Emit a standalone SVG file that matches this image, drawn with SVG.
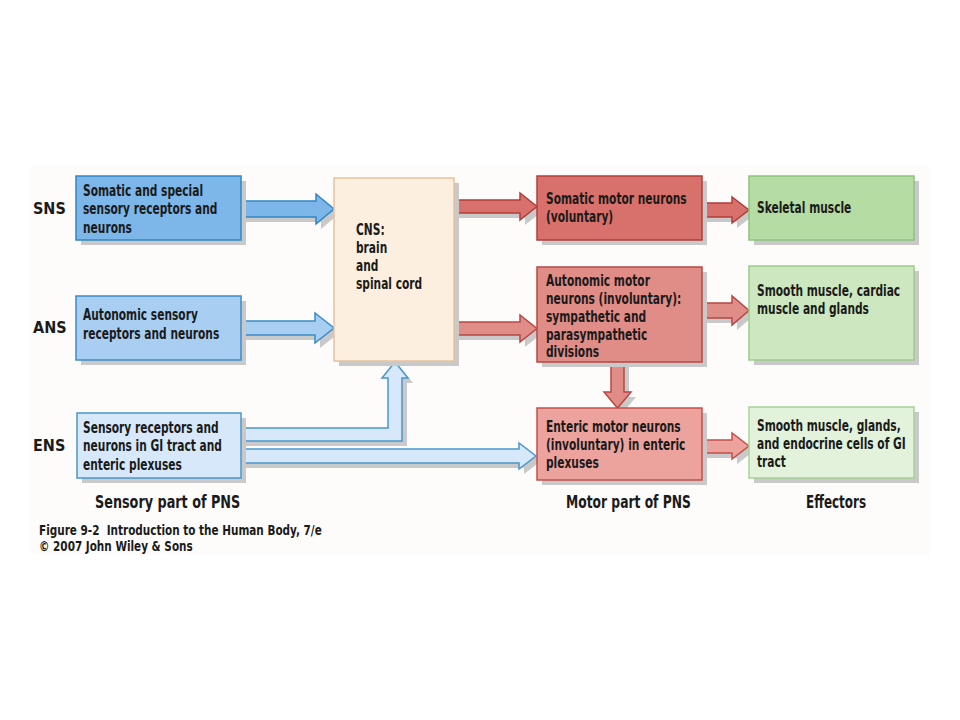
<svg xmlns="http://www.w3.org/2000/svg" width="960" height="720" viewBox="0 0 960 720">
<style>
text{font-family:"Liberation Sans Narrow","DejaVu Sans Condensed","Liberation Sans",sans-serif;font-weight:bold;fill:#1a1a1a}
.t{font-size:16px}
.lab{font-size:16px}
.big{font-size:18px}
.cap{font-size:14px}
.sh{fill:#c9c9c9}
.b1{fill:#7db6e8;stroke:#2f86c4;stroke-width:1.5}
.b2{fill:#a8cef2;stroke:#3a8cc8;stroke-width:1.5}
.b3{fill:#d6e8f9;stroke:#4a97cc;stroke-width:1.5}
.cns{fill:#fdefdf;stroke:#e6c29e;stroke-width:1.5}
.r1{fill:#d8716b;stroke:#b13c3a;stroke-width:1.5}
.r2{fill:#e08d88;stroke:#b84744;stroke-width:1.5}
.r3{fill:#eca39e;stroke:#c24f4b;stroke-width:1.5}
.g1{fill:#b5dca2;stroke:#8cc47b;stroke-width:1.5}
.g2{fill:#cde8c0;stroke:#9ccd8b;stroke-width:1.5}
.g3{fill:#e3f2db;stroke:#a6d296;stroke-width:1.5}
</style>
<rect x="0" y="0" width="960" height="720" fill="#ffffff"/>
<rect x="30" y="165" width="900" height="390" fill="#fefcfa"/>

<g id="connectors">
  <g transform="translate(5,5)" class="sh">
    <polygon points="241,201 316,201 316,194 334,209 316,224 316,217 241,217"/>
    <polygon points="241,321 315,321 315,313 334,328 315,343 315,335 241,335"/>
    <polygon points="241,428 388,428 388,378 382,378 395,362 408,378 402,378 402,441 241,441"/>
    <polygon points="241,449 519,449 519,443 536,456 519,469 519,463 241,463"/>
    <polygon points="454,200 520,200 520,193 537,206.5 520,220 520,213 454,213"/>
    <polygon points="454,322 520,322 520,315 537,328.5 520,342 520,335 454,335"/>
    <polygon points="702,203 732,203 732,197 749,210 732,223 732,217 702,217"/>
    <polygon points="702,303 732,303 732,296 749,310.5 732,325 732,318 702,318"/>
    <polygon points="702,440 732,440 732,433 749,446 732,459 732,453 702,453"/>
    <polygon points="611,362 611,392 604,392 617.5,408 631,392 624,392 624,362"/>
  </g>
  <polygon class="b1" points="241,201 316,201 316,194 334,209 316,224 316,217 241,217"/>
  <polygon class="b2" points="241,321 315,321 315,313 334,328 315,343 315,335 241,335"/>
  <polygon class="b3" points="241,428 388,428 388,378 382,378 395,362 408,378 402,378 402,441 241,441"/>
  <polygon class="b3" points="241,449 519,449 519,443 536,456 519,469 519,463 241,463"/>
  <polygon class="r1" points="454,200 520,200 520,193 537,206.5 520,220 520,213 454,213"/>
  <polygon class="r2" points="454,322 520,322 520,315 537,328.5 520,342 520,335 454,335"/>
  <polygon class="r1" points="702,203 732,203 732,197 749,210 732,223 732,217 702,217"/>
  <polygon class="r2" points="702,303 732,303 732,296 749,310.5 732,325 732,318 702,318"/>
  <polygon class="r3" points="702,440 732,440 732,433 749,446 732,459 732,453 702,453"/>
  <polygon class="r2" points="611,362 611,392 604,392 617.5,408 631,392 624,392 624,362"/>
</g>

<g id="sns-label"><text class="lab" x="33" y="214">SNS</text></g>
<g id="ans-label"><text class="lab" x="33" y="333">ANS</text></g>
<g id="ens-label"><text class="lab" x="33" y="451">ENS</text></g>

<g id="somatic-sensory">
  <rect class="sh" x="81" y="181" width="165" height="64"/>
  <rect class="b1" x="76" y="176" width="165" height="64"/>
  <g transform="translate(83,0) scale(0.74,1)">
    <text class="t" x="0" y="196">Somatic and special</text>
    <text class="t" x="0" y="214">sensory receptors and</text>
    <text class="t" x="0" y="233">neurons</text>
  </g>
</g>
<g id="autonomic-sensory">
  <rect class="sh" x="81" y="301" width="165" height="64"/>
  <rect class="b2" x="76" y="296" width="165" height="64"/>
  <g transform="translate(83,0) scale(0.74,1)">
    <text class="t" x="0" y="320">Autonomic sensory</text>
    <text class="t" x="0" y="339">receptors and neurons</text>
  </g>
</g>
<g id="enteric-sensory">
  <rect class="sh" x="82" y="418" width="164" height="65"/>
  <rect class="b3" x="77" y="413" width="164" height="65"/>
  <g transform="translate(83,0) scale(0.74,1)">
    <text class="t" x="0" y="433">Sensory receptors and</text>
    <text class="t" x="0" y="451">neurons in GI tract and</text>
    <text class="t" x="0" y="470">enteric plexuses</text>
  </g>
</g>
<g id="cns">
  <rect class="sh" x="339" y="183" width="120" height="183"/>
  <rect class="cns" x="334" y="178" width="120" height="183"/>
  <g transform="translate(356,0) scale(0.74,1)">
    <text class="t" x="0" y="235">CNS:</text>
    <text class="t" x="0" y="253">brain</text>
    <text class="t" x="0" y="271">and</text>
    <text class="t" x="0" y="289">spinal cord</text>
  </g>
</g>
<g id="somatic-motor">
  <rect class="sh" x="542" y="181" width="165" height="64"/>
  <rect class="r1" x="537" y="176" width="165" height="64"/>
  <g transform="translate(546,0) scale(0.74,1)">
    <text class="t" x="0" y="204">Somatic motor neurons</text>
    <text class="t" x="0" y="222">(voluntary)</text>
  </g>
</g>
<g id="autonomic-motor">
  <rect class="sh" x="542" y="272" width="165" height="95"/>
  <rect class="r2" x="537" y="267" width="165" height="95"/>
  <g transform="translate(546,0) scale(0.74,1)">
    <text class="t" x="0" y="286">Autonomic motor</text>
    <text class="t" x="0" y="304">neurons (involuntary):</text>
    <text class="t" x="0" y="322">sympathetic and</text>
    <text class="t" x="0" y="340">parasympathetic</text>
    <text class="t" x="0" y="357">divisions</text>
  </g>
</g>
<g id="enteric-motor">
  <rect class="sh" x="542" y="413" width="165" height="72"/>
  <rect class="r3" x="537" y="408" width="165" height="72"/>
  <g transform="translate(546,0) scale(0.74,1)">
    <text class="t" x="0" y="432">Enteric motor neurons</text>
    <text class="t" x="0" y="450">(involuntary) in enteric</text>
    <text class="t" x="0" y="468">plexuses</text>
  </g>
</g>
<g id="skeletal-muscle">
  <rect class="sh" x="754" y="181" width="165" height="64"/>
  <rect class="g1" x="749" y="176" width="165" height="64"/>
  <g transform="translate(757,0) scale(0.74,1)">
    <text class="t" x="0" y="213">Skeletal muscle</text>
  </g>
</g>
<g id="smooth-cardiac">
  <rect class="sh" x="754" y="271" width="165" height="94"/>
  <rect class="g2" x="749" y="266" width="165" height="94"/>
  <g transform="translate(757,0) scale(0.74,1)">
    <text class="t" x="0" y="296">Smooth muscle, cardiac</text>
    <text class="t" x="0" y="314">muscle and glands</text>
  </g>
</g>
<g id="smooth-gi">
  <rect class="sh" x="754" y="412" width="165" height="71"/>
  <rect class="g3" x="749" y="407" width="165" height="71"/>
  <g transform="translate(757,0) scale(0.74,1)">
    <text class="t" x="0" y="431">Smooth muscle, glands,</text>
    <text class="t" x="0" y="449">and endocrine cells of GI</text>
    <text class="t" x="0" y="467">tract</text>
  </g>
</g>

<g id="column-labels">
  <g transform="translate(95,0) scale(0.79,1)"><text class="big" x="0" y="508">Sensory part of PNS</text></g>
  <g transform="translate(566,0) scale(0.76,1)"><text class="big" x="0" y="508">Motor part of PNS</text></g>
  <g transform="translate(806,0) scale(0.74,1)"><text class="big" x="0" y="508">Effectors</text></g>
</g>
<g id="caption">
  <g transform="translate(39,0) scale(0.83,1)">
    <text class="cap" x="0" y="535">Figure 9-2&#160; Introduction to the Human Body, 7/e</text>
    <text class="cap" x="0" y="551">© 2007 John Wiley &amp; Sons</text>
  </g>
</g>
</svg>
